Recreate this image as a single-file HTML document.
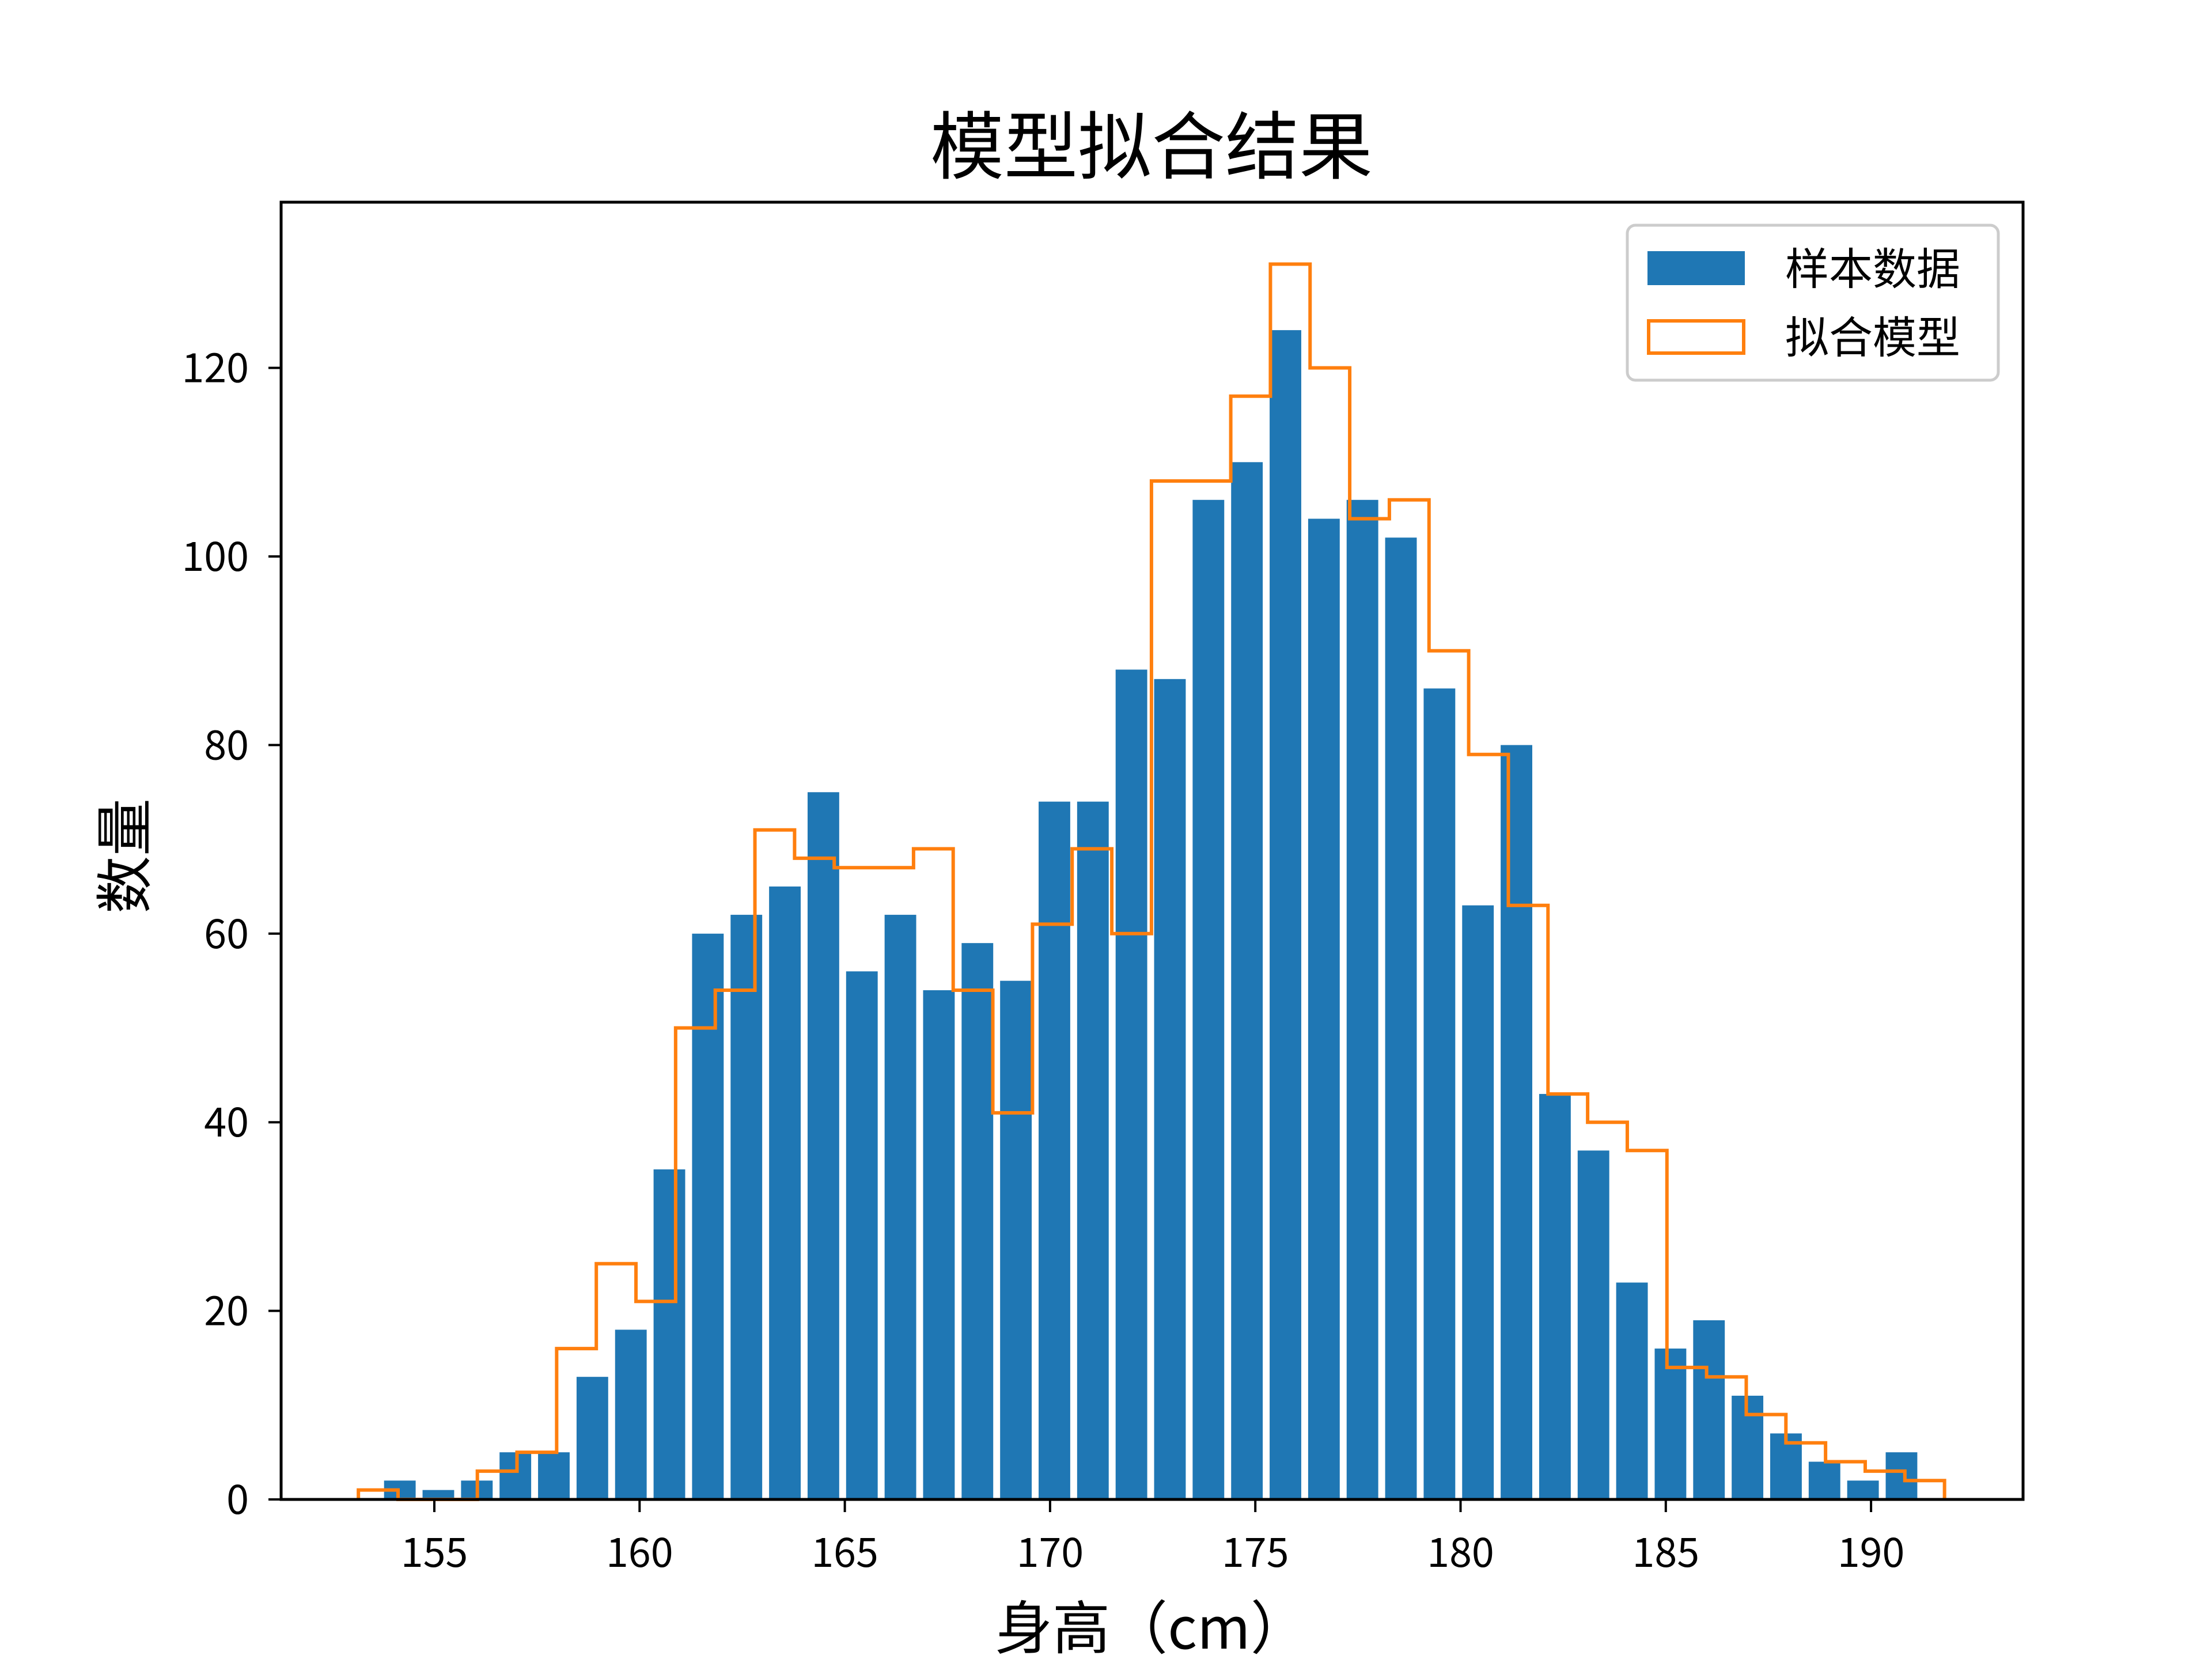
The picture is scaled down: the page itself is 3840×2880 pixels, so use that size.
<!DOCTYPE html>
<html><head><meta charset="utf-8">
<style>
html,body{margin:0;padding:0;background:#fff;}
svg{display:block;font-family:"WenQuanYi Zen Hei","Noto Sans CJK SC",sans-serif;}
</style></head>
<body>
<svg id="chart" width="3840" height="2880" viewBox="0 0 3840 2880" xmlns="http://www.w3.org/2000/svg">
<rect width="3840" height="2880" fill="#fff"/>
<g id="bars"></g>
<path id="step" fill="none" stroke="#ff7f0e" stroke-width="6"/>
<g id="xticks"></g>
<g id="yticks"></g>
<rect x="488" y="351" width="3024" height="2252" fill="none" stroke="#000" stroke-width="5"/>
<text x="1999" y="300" text-anchor="middle" font-size="128">模型拟合结果</text>
<text x="1999" y="2862" text-anchor="middle" font-size="100">身高（cm）</text>
<text transform="translate(252,1486) rotate(-90)" text-anchor="middle" font-size="100">数量</text>
<g>
<rect x="2825" y="391" width="644" height="269" rx="14" fill="#fff" fill-opacity="0.8" stroke="#ccc" stroke-width="5"/>
<rect x="2860" y="436" width="169" height="59" fill="#1f77b4"/>
<text x="3099" y="494" font-size="76">样本数据</text>
<rect x="2862" y="557" width="165" height="56" fill="none" stroke="#ff7f0e" stroke-width="6"/>
<text x="3099" y="613" font-size="76">拟合模型</text>
</g>
</svg>
<script>
const barCounts=[2,1,2,5,5,13,18,35,60,62,65,75,56,62,54,59,55,74,74,88,87,106,110,124,104,106,102,86,63,80,43,37,23,16,19,11,7,4,2,5];
const barStart=154.16, barStep=0.938, barWidth=0.77;
const modelCounts=[1,0,0,3,5,16,25,21,50,54,71,68,67,67,69,54,41,61,69,60,108,108,117,131,120,104,106,90,79,63,43,40,37,14,13,9,6,4,3,2];
const modelStart=153.15, modelStep=0.966;
const xTicks=[155,160,165,170,175,180,185,190];
const yTicks=[0,20,40,60,80,100,120];
const NS="http://www.w3.org/2000/svg";
const xs=v=>754+(v-155)*71.26;
const ys=v=>2603-v*16.37;
const bars=document.getElementById('bars');
barCounts.forEach((c,i)=>{
  const cx=barStart+i*barStep;
  const r=document.createElementNS(NS,'rect');
  r.setAttribute('x',xs(cx-barWidth/2));
  r.setAttribute('width',barWidth*71.26);
  r.setAttribute('y',ys(c));
  r.setAttribute('height',ys(0)-ys(c));
  r.setAttribute('fill','#1f77b4');
  
  
  bars.appendChild(r);
});
let d='M'+xs(modelStart)+','+ys(0);
modelCounts.forEach((c,i)=>{
  const x0=xs(modelStart+i*modelStep), x1=xs(modelStart+(i+1)*modelStep);
  d+=' L'+x0+','+ys(c)+' L'+x1+','+ys(c);
});
d+=' L'+xs(modelStart+modelCounts.length*modelStep)+','+ys(0);
document.getElementById('step').setAttribute('d',d);
const xt=document.getElementById('xticks');
xTicks.forEach(t=>{
  const l=document.createElementNS(NS,'line');
  l.setAttribute('x1',xs(t));l.setAttribute('x2',xs(t));
  l.setAttribute('y1',2603);l.setAttribute('y2',2625);
  l.setAttribute('stroke','#000');l.setAttribute('stroke-width',4);
  
  
  xt.appendChild(l);
  const tx=document.createElementNS(NS,'text');
  tx.setAttribute('x',xs(t));tx.setAttribute('y',2720);
  tx.setAttribute('text-anchor','middle');tx.setAttribute('font-size',70);
  tx.textContent=t;
  
  
  xt.appendChild(tx);
});
const yt=document.getElementById('yticks');
yTicks.forEach(t=>{
  const l=document.createElementNS(NS,'line');
  l.setAttribute('x1',466);l.setAttribute('x2',488);
  l.setAttribute('y1',ys(t));l.setAttribute('y2',ys(t));
  l.setAttribute('stroke','#000');l.setAttribute('stroke-width',4);
  
  
  yt.appendChild(l);
  const tx=document.createElementNS(NS,'text');
  tx.setAttribute('x',432);tx.setAttribute('y',ys(t)+25);
  tx.setAttribute('text-anchor','end');tx.setAttribute('font-size',70);
  tx.textContent=t;
  
  
  yt.appendChild(tx);
});
</script>
</body></html>
